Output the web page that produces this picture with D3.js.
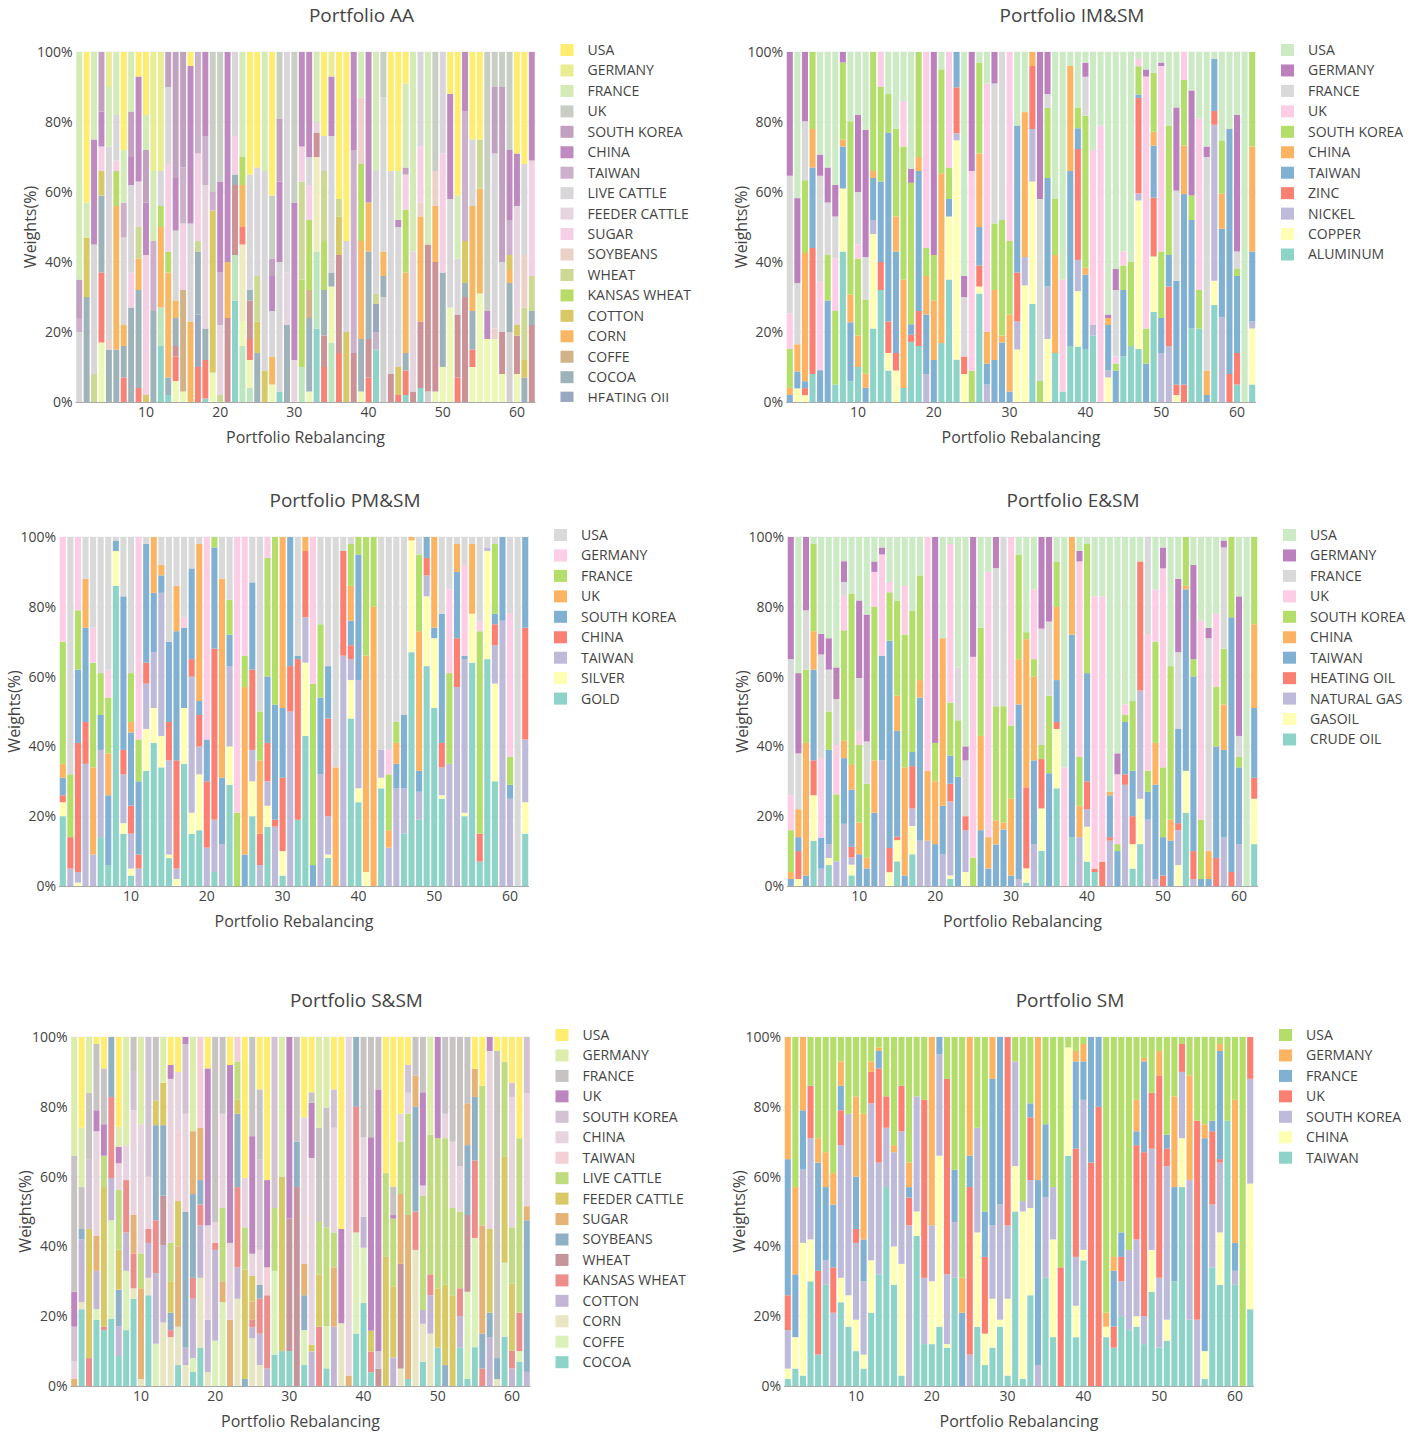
<!DOCTYPE html>
<html>
<head>
<meta charset="utf-8">
<script src="https://cdn.jsdelivr.net/npm/d3@7"></script>
<style>
  body { margin: 0; background: #fff; }
  text { font-family: "Open Sans", verdana, arial, sans-serif; fill: #444; }
</style>
</head>
<body>
<div id="run"></div>
<script>
// asset lists, bottom of the stack first (legend shows them reversed)
var aaAssets = ["ALUMINUM","COPPER","NICKEL","ZINC","GOLD","SILVER","CRUDE OIL","GASOIL","NATURAL GAS","HEATING OIL",
  "COCOA","COFFE","CORN","COTTON","KANSAS WHEAT","WHEAT","SOYBEANS","SUGAR","FEEDER CATTLE","LIVE CATTLE",
  "TAIWAN","CHINA","SOUTH KOREA","UK","FRANCE","GERMANY","USA"];
var imAssets = ["ALUMINUM","COPPER","NICKEL","ZINC","TAIWAN","CHINA","SOUTH KOREA","UK","FRANCE","GERMANY","USA"];
var pmAssets = ["GOLD","SILVER","TAIWAN","CHINA","SOUTH KOREA","UK","FRANCE","GERMANY","USA"];
var enAssets = ["CRUDE OIL","GASOIL","NATURAL GAS","HEATING OIL","TAIWAN","CHINA","SOUTH KOREA","UK","FRANCE","GERMANY","USA"];
var ssAssets = ["COCOA","COFFE","CORN","COTTON","KANSAS WHEAT","WHEAT","SOYBEANS","SUGAR","FEEDER CATTLE","LIVE CATTLE",
  "TAIWAN","CHINA","SOUTH KOREA","UK","FRANCE","GERMANY","USA"];
var smAssets = ["TAIWAN","CHINA","SOUTH KOREA","UK","FRANCE","GERMANY","USA"];

// one letter per asset, same order as above (AA and S&SM use the asset index)
var imCodes = "LPNZTCKUFGA";
var pmCodes = "OSTCKUFGA";
var enCodes = "RSNHTCKUFGA";
var smCodes = "TCKUFGA";

var yTicks = [0, 0.2, 0.4, 0.6, 0.8, 1];
var xTicks = [10, 20, 30, 40, 50, 60];

// weights (%) per rebalancing
var aaBars = [
"19:20 20:4 22:11 24:65","10:30 13:17 24:10 26:43","15:8 19:37 21:30 24:25","2:17 7:20 10:22 13:7 17:7 21:10 22:17",
"16:3 10:15 19:55 24:17 25:10","17:3 10:15 12:41 14:10 19:13 24:18","7:7 10:9 19:25 20:10 12:6 24:15 26:28",
"17:10 10:27 22:13 19:25 24:17 21:8","7:4 10:28 12:9 15:9 21:30 18:13 26:7","13:2 17:40 21:15 22:15 24:10 26:18",
"10:26 20:20 24:20 25:34","0:16 1:11 19:10 12:23 14:6 25:34","0:2 10:5 19:22 12:30 14:6 17:25 22:10",
"2:6 7:7 10:8 19:20 12:5 8:3 21:15 22:36","2:3 11:29 17:19 20:16 22:33","12:23 19:28 21:45 26:4",
"10:18 7:10 9:15 17:25 15:3 20:29","0:1 7:11 10:9 18:41 20:14 21:24","2:8 13:44 20:5 23:38",
"15:2 18:20 21:26 20:15 23:37","8:24 12:16 21:60","0:29 1:13 8:20 10:3 17:11 19:24",
"1:16 7:5 3:22 2:7 12:12 14:8 24:30","1:4 2:8 8:11 7:6 10:3 19:33 26:35","15:13 10:14 13:9 19:31 26:33",
"19:57 13:9 24:34","2:5 12:8 19:13 22:5 21:10 23:18 26:41","0:3 19:37 22:18 21:23 23:19",
"18:15 10:22 19:63","18:12 21:45 23:43","1:10 14:25 15:28 17:10 21:27",
"14:20 2:3 19:8 10:21 11:8 17:10 21:30","0:21 1:22 3:27 8:7 18:3 24:20","8:9 7:10 10:13 14:14 15:20 19:10 26:24",
"1:17 2:16 10:4 19:39 21:17 25:7","8:28 7:14 13:11 15:5 26:42","13:20 19:26 26:54",
"8:14 20:58 21:28","2:3 10:15 12:28 14:22 24:13 16:19","8:11 7:7 10:25 12:14 21:43",
"0:15 5:5 9:8 15:3 19:35 24:34","10:6 12:7 19:44 4:30 23:13","8:8 19:58 26:34",
"7:2 13:8 19:40 21:2 24:14 26:34","0:2 7:7 10:5 17:10 12:23 14:18 24:24 22:2 26:9","8:3 18:40 24:57",
"0:4 8:19 17:16 12:30 16:4 19:27","4:3 8:42 24:55","2:3 8:37 12:16 16:10 23:34",
"2:10 17:34 10:27 19:29","2:27 19:31 21:30 26:12","8:18 7:7 19:16 24:18 26:41",
"8:30 10:4 13:12 21:17 20:37","2:10 7:5 10:11 12:30 19:19 26:25","2:31 12:30 15:14 26:25",
"2:18 21:8 23:74","2:18 16:3 19:50 22:19 23:10","2:8 8:12 19:20 22:50 23:10",
"10:14 12:4 13:4 4:20 20:10 21:20 23:28","2:8 8:11 13:3 18:34 21:15 26:29","10:7 15:15 13:5 16:15 19:26 26:32",
"8:22 10:4 15:10 17:33 21:31"];

var imBars = [
"T2 C2 K11 U10 F39 G35","P4 T5 C8 F18 G25 A43","P2 Z2 T2 C37 K21 F17 G20","L8 Z36 T23 C11 K22",
"T9 U25 F30 G6 A29","T29 K13 F15 G10 A33","L5 K21 U15 F12 G9 A38","L43 P18 T12 C2 K22 G3",
"L6 T17 C8 K50 A20","L10 C9 K22 U4 F15 G22 A18","T4 C4 K21 F12 G36 A22","L21 P27 N4 T12 C2 K34",
"L32 Z8 T23 K27 U10","L9 P5 Z9 T54 K11 A12","P9 Z5 T29 C10 K25 A22","L4 C31 K38 U13 A14",
"L17 Z2 T3 K40 G4 A33","L16 Z10 T40 C4 K30","N8 T17 C11 K8 U56","T12 C17 K13 G58",
"L17 C49 K30 A5","L35 P18 T5 K9 U33","L12 P62 N2 Z13 T10","P8 Z5 F17 G6 A64",
"K9 U57 G34","L31 P2 Z6 T11 C21 K26 A3","N5 T6 C9 U71 A9","T12 C20 K19 F40 G9",
"T17 C2 K33 F48","T3 C22 K21 U54","P15 N8 Z14 T42 A21","P33 N8 C41 A17",
"L28 P35 N15 Z18 C4","K6 F52 G42","P18 N15 T31 K20 F4 G12","L14 C28 K16 A42",
"L3 U32 A65","L16 T50 C30 A4","L16 P16 N9 Z32 T6 K6 A16","L15 T21 C2 K43 F11 G4 A3",
"L19 N3 U50 A28","U79 A21","P7 N2 T13 C2 G1 A75","T9 K2 U2 F19 G6 A62",
"L13 T19 K7 U4 A57","L16 K24 A60","L15 P42 N2 Z27 T1 K8 U2 A2","T11 K10 U72 G2 A5",
"L26 P16 Z17 T15 C4 K17 A6","N14 T10 K19 U53 G1 A3","N16 Z17 T9 K37 A21","P2 Z3 T30 F26 G24 A16",
"Z5 T55 C14 K19 U8","L21 T31 K7 G30 A11","L21 K11 U49 A19","T2 C7 F61 G3 A27",
"L28 P7 N45 Z4 T15 A2","N24 T25 C10 K15 A25","Z8 T70 A22","L5 Z9 T22 K2 F5 G39 A18",
"A100","L5 P16 N2 T20 C30 K27"];

var pmBars = [
"O20 S4 C2 K5 U4 F35 G30","T5 C9 F18 A68","S1 T3 C37 K21 F17 G21","T35 C12 K27 U14 A12",
"T9 U25 F30 G10 A26","O14 T25 K10 F12 A39","O6 K20 U12 F16 G8 A38","O86 S10 K3 A1",
"O15 S3 T14 C7 K44 A17","O3 S2 T10 C8 K21 U3 F14 A39","T5 C4 K21 F12 G58","O33 S12 T13 C6 K34 A2",
"O41 S10 T16 K17 U16","O34 S9 T41 K5 U3 A8","O8 S1 T27 C11 K23 A30","S2 T3 C31 K37 U13 A14",
"O35 S16 K23 G3 A23","O15 S6 T39 C5 K26 A9","O16 S16 T8 C9 K4 U45 A2","T11 C19 K12 G58",
"O4 T15 C49 K29 F3","T12 K19 U57 A12","O29 S11 T23 K9 F10 A18","F21 G79",
"K9 U48 F9 G34","O20 S10 T9 C23 K25 A13","T6 C9 U21 F14 A50","O17 S6 T7 C11 K19 F34 G6",
"T17 C2 K33 F48","O3 S7 C21 K20 U49","T50 C13 K37","O19 C46 K1 A34",
"O43 S21 T13 C19 U4","K6 F52 G42","T32 K22 F21 A25","O8 S1 T11 C28 K15 A37",
"U34 A66","T66 C30 A4","O48 S11 T6 C4 K7 U10 F12 A2","O24 S4 T31 K36 F5",
"S4 U62 F34","U80 F20","O28 S3 T8 A61","T11 U5 F16 G7 A61",
"T28 K7 U6 F6 A53","O15 T13 K21 A51","O67 S32 U1","O19 T8 K6 U40 F22 A5",
"O63 S20 T6 C5 K6","O51 S20 K3 U26","O25 S1 T8 C7 K37 A22","T35 F26 G24 A15",
"T57 C14 K19 U8 A2","O20 S1 T44 K1 G26 A8","O64 S14 U20 A2","O7 C8 F58 G3 A24",
"O65 S31 T1 A3","O30 S28 T11 C6 K3 F20 A2","T76 K24","T25 K4 F8 G41 A22",
"A100","O15 S9 T18 C32 K26"];

var enBars = [
"T2 C2 K12 U10 F39 G35","S2 H8 T4 C8 F16 G23 A39","T3 C38 K21 F17 G21","R13 S13 H10 T26 C11 K25 A2",
"N5 T9 U23 F30 G6 A28","R6 S2 N4 T27 K11 F12 G9 A29","N7 K19 U14 F13 G9 A37","N18 T19 C5 K32 U10 F4 G6 A7",
"R3 S3 N2 H3 T16 C7 K48 A16","T9 C9 K22 U4 F15 G22 A18","T5 C3 K21 F12 G36 A22","T21 C15 K44 U10 G3 A7",
"N36 T30 U29 G2 A3","S4 H7 T60 K14 U3 A13","R7 S6 H1 T30 C10 K27 A18","T3 C31 K38 U14 A14",
"R9 S8 N5 H12 T4 K40 A21","N13 T41 C5 K30 A11","N13 C20 U67","T12 C18 K11 G59",
"N9 T14 C48 A29","R2 S1 N21 H5 T8 K15 U45 A2","T31 K16 F15 A37","S4 N12 H4 F16 G4 A60",
"K8 U57 G34","T16 C27 K31 A26","T5 C9 U76 A10","T12 C7 K33 F40 G9",
"T16 C2 K33 F48","T3 C22 K21 U54","N2 T50 C13 K30 A5","R1 S4 H23 C42 K2 A27",
"N12 T24 C24 K5 U20 A15","R10 S12 H14 K4 F33 G26","T32 K22 F21 G24","R28 S17 H2 T12 C21 K13 A7",
"U34 A66","R14 T58 C28","N14 C9 K14 U56 G3 A4","R7 S10 N5 H8 T31 K37 A2",
"R4 H1 U78 A17","H7 U76 A17","N13 H1 T12 C1 A73","T10 K2 U20 G6 A62",
"N29 H3 T15 K2 U3 A48","R5 S7 H8 T13 K20 A47","R12 S13 N31 H37 A7","N19 T8 K6 U39 F28",
"N2 T27 C12 K29 U15 A15","H3 T11 K20 U57 G6 A3","T13 C6 K44 A37","S6 N10 H2 T27 F22 G21 A12",
"R21 S12 T52 C1 K14","N2 H8 T50 K5 G27 A8","T2 K17 U57 A24","T2 C8 F61 G3 A26",
"H8 T32 K17 U21 A22","N14 T25 C13 K16 F29 G2 A1","H4 T73 K23","N12 T22 K3 F6 G40 A17",
"A100","R12 S13 H6 T20 C24 K25"];

var ssBars = [
"7:2 11:5 12:10 13:10 14:39 15:34","0:22 2:2 3:18 6:3 14:12 15:17 16:26","4:8 8:37 12:20 14:19 15:16",
"0:19 1:3 3:11 7:10 11:30 13:6 14:19 16:2","0:16 4:1 8:40 9:9 13:9 14:16 16:9","0:19 1:28 3:12 4:23 6:17",
"0:9 3:9 6:11 8:12 9:18 11:8 13:5 15:6 16:27","0:16 1:17 3:11 4:15 11:10 15:31","0:25 2:3 4:10 7:11 11:30 12:11 14:10",
"2:2 7:26 9:10 11:37 15:25","0:26 2:5 3:10 4:4 11:15 12:40","1:12 3:20 4:15 6:27 8:7 14:18",
"2:18 3:22 5:14 6:20 8:12 15:13","2:14 4:2 6:5 8:9 9:11 11:47 13:4 16:8","0:6 2:11 7:23 8:13 10:20 11:17 16:10",
"2:6 3:5 6:39 11:28 12:20 13:2","0:4 1:4 3:17 4:6 6:24 7:18 15:27","0:11 2:20 3:15 4:6 6:7 7:15 10:26",
"2:4 3:15 11:27 13:45 16:9","1:13 3:26 4:2 11:6 14:53","1:24 7:6 9:21 11:27 14:22",
"7:19 11:22 13:51 16:8","2:25 3:9 4:23 6:21 8:4 9:11 10:7","6:2 8:31 9:12 11:14 16:40",
"2:13 3:3 4:2 7:5 8:7 11:6 13:32 14:27","2:6 3:9 4:10 6:4 11:10 12:26 14:20 16:15","3:5 4:21 10:8 13:25 16:41",
"0:9 1:24 9:18 12:49","0:10 8:50 15:40","0:10 5:38 13:52",
"5:57 6:13 14:30","0:6 1:10 6:10 7:9 11:42 16:23","3:10 8:2 11:54 13:16 14:3 16:16",
"4:17 8:15 9:15 14:27 15:26","0:5 1:12 9:28 14:34 15:20","3:17 7:17 9:10 11:30 12:11 16:15",
"2:18 13:27 16:55","7:3 11:97","0:15 1:29 4:36 6:20",
"0:24 1:16 3:9 11:23 14:29","0:4 4:6 8:6 13:56 14:29","5:5 12:5 13:75 14:15",
"8:37 9:24 16:39","3:8 8:20 9:19 13:1 14:8 16:42","2:5 5:30 7:20 9:15 11:8 16:22",
"0:2 7:47 9:29 11:6 12:8 16:8","2:39 4:11 6:30 7:9 14:11","0:7 2:11 3:4 9:33 11:3 13:27 14:16",
"2:15 3:11 4:6 9:40 15:28","0:11 8:17 9:43 13:29","6:6 8:23 9:42 11:7 14:22",
"8:26 9:25 11:19 14:30","0:11 3:9 4:8 9:22 11:13 14:37","0:2 1:25 5:22 6:20 7:12 14:19",
"0:11 1:31 4:22 6:18 7:8 16:9","4:5 6:10 7:31 9:40 16:14","3:14 6:7 8:24 11:51 13:4",
"2:2 6:6 14:88 16:4","0:14 1:21 8:30 9:27 16:7","3:5 4:5 8:19 9:16 11:37 12:4 16:13",
"0:7 1:3 4:11 9:50 16:29","3:4 6:43 7:4 11:32 12:16"];

var smBars = [
"T2 C3 K11 U10 F39 G35","T5 C9 F18 G25 A43","T3 C38 K21 F17 G21","T30 C12 K29 U15 A14",
"T9 U24 F31 G7 A29","T29 K7 F21 G10 A33","K21 U13 F18 G9 A39","T24 C7 K38 U10 F7 G7 A7",
"T17 C9 K52 A22","T10 C9 K22 U4 F15 G23 A17","T5 C4 K21 F12 G36 A22","T21 C15 K45 U9 G3 A7",
"T32 K32 U27 F5 G1 A3","T57 K17 U9 A17","T29 C11 K27 G2 A31","T3 C32 K38 U13 A14",
"K46 U8 F3 G7 A36","T43 C7 K33 A17","T12 K19 U51 A18","T12 C18 K16 G54",
"T17 C49 K29 F5","T11 C1 K20 U56 A12","T31 K16 F15 A38","F21 G10 A69",
"K9 U48 F9 G34","T17 C27 K30 A26","T6 C9 U22 F13 A50","T11 C14 K21 F42 G12",
"T17 C2 K33 F48","T3 C22 K21 U54","T50 C13 K30 A7","T2 C48 K3 A47",
"T26 C25 K8 U18 F4 A19","K6 F53 G41","T31 K23 F21 A25","T14 C28 K15 A43",
"U34 A66","T66 C31 A3","T14 C9 K14 U31 F25 G3 A4","T36 C3 K43 F11 G5 A2",
"U64 F36","U80 F20","T14 C3 G4 A79","T11 U6 F16 G4 A63",
"T20 K10 U7 F7 A56","T16 K23 A61","T17 C3 K22 U27 F4 G9 A18","T12 K8 U47 F26 G1 A6",
"T27 C12 K29 U16 A16","T11 K20 U58 G7 A4","T13 C6 K44 U5 F4 A28","T30 F27 G26 A17",
"T57 C14 K19 U8 A2","T19 K40 G30 A11","K19 U57 A24","T2 C8 F61 G4 A25",
"T34 K18 U21 F3 A24","T29 C15 K20 U1 F31 G2 A2","T76 A24","T29 K4 F8 G41 A18",
"A100","T22 C36 K30 U12"];

var panels = [
  {title: "Portfolio AA",    assets: aaAssets, codes: null,    bars: aaBars, x0: 75.5, x1: 535.5, y0: 52,   y1: 402},
  {title: "Portfolio IM&SM", assets: imAssets, codes: imCodes, bars: imBars, x0: 786,  x1: 1256,  y0: 52,   y1: 402},
  {title: "Portfolio PM&SM", assets: pmAssets, codes: pmCodes, bars: pmBars, x0: 59,   x1: 529,   y0: 537,  y1: 886},
  {title: "Portfolio E&SM",  assets: enAssets, codes: enCodes, bars: enBars, x0: 787,  x1: 1258,  y0: 537,  y1: 886},
  {title: "Portfolio S&SM",  assets: ssAssets, codes: null,    bars: ssBars, x0: 70.5, x1: 530.5, y0: 1037, y1: 1386},
  {title: "Portfolio SM",    assets: smAssets, codes: smCodes, bars: smBars, x0: 784,  x1: 1254,  y0: 1037, y1: 1386}
];

var svg = d3.select("#run").append("svg")
    .attr("width", 1424)
    .attr("height", 1433);

function palette(n) {
  if (n <= 12) return d3.schemeSet3.slice(0, n);
  var interp = d3.piecewise(d3.interpolateRgb, d3.schemeSet3);
  return d3.range(n).map(function(i) { return interp(i / (n - 1)); });
}

// "T30 C12" or "19:20" -> one row of weights in stack order
function parseBar(str, p, i) {
  var row = {bar: i + 1};
  p.assets.forEach(function(a, k) { row[k] = 0; });
  str.split(" ").forEach(function(tok) {
    var k, v;
    if (tok.indexOf(":") >= 0) {
      k = +tok.split(":")[0];
      v = +tok.split(":")[1];
    } else {
      k = p.codes.indexOf(tok[0]);
      v = +tok.slice(1);
    }
    row[k] += v;
  });
  return row;
}

var legStep = 20.45;

panels.forEach(function(p, pi) {
  var n = p.assets.length;
  var colors = palette(n);
  var rows = p.bars.map(function(s, i) { return parseBar(s, p, i); });

  var x = d3.scaleBand()
      .domain(rows.map(function(d) { return d.bar; }))
      .range([p.x0, p.x1])
      .paddingInner(0.2)
      .paddingOuter(0.1);
  var xl = d3.scaleLinear().domain([0.5, rows.length + 0.5]).range([p.x0, p.x1]);
  var y = d3.scaleLinear().domain([0, 1]).range([p.y1, p.y0]);

  var series = d3.stack()
      .keys(d3.range(n))
      .offset(d3.stackOffsetExpand)(rows);

  var g = svg.append("g");

  // grid
  g.selectAll(".grid").data(yTicks.slice(1)).enter().append("line")
      .attr("x1", p.x0).attr("x2", p.x1)
      .attr("y1", y).attr("y2", y)
      .attr("stroke", "#eee");

  g.selectAll(".layer").data(series).enter().append("g")
      .attr("fill", function(d, k) { return colors[k]; })
    .selectAll("rect").data(function(d) { return d; }).enter().append("rect")
      .attr("x", function(d) { return x(d.data.bar); })
      .attr("width", x.bandwidth())
      .attr("y", function(d) { return y(d[1]); })
      .attr("height", function(d) { return Math.max(0, y(d[0]) - y(d[1])); });

  g.append("line")
      .attr("x1", p.x0).attr("x2", p.x1)
      .attr("y1", p.y1 + 0.5).attr("y2", p.y1 + 0.5)
      .attr("stroke", "#aaa");

  // y ticks
  g.selectAll(".ytick").data(yTicks).enter().append("text")
      .attr("x", p.x0 - 3)
      .attr("y", y)
      .attr("dy", "0.35em")
      .attr("text-anchor", "end")
      .style("font-size", "14px")
      .text(d3.format(".0%"));

  // x ticks
  g.selectAll(".xtick").data(xTicks).enter().append("text")
      .attr("x", xl)
      .attr("y", p.y1 + 10)
      .attr("dy", "0.35em")
      .attr("text-anchor", "middle")
      .style("font-size", "14px")
      .text(function(d) { return d; });

  g.append("text")
      .attr("x", (p.x0 + p.x1) / 2)
      .attr("y", p.y1 + 35)
      .attr("dy", "0.35em")
      .attr("text-anchor", "middle")
      .style("font-size", "16px")
      .text("Portfolio Rebalancing");

  g.append("text")
      .attr("transform", "translate(" + (p.x0 - 45) + "," + ((p.y0 + p.y1) / 2) + ") rotate(-90)")
      .attr("dy", "0.35em")
      .attr("text-anchor", "middle")
      .style("font-size", "16px")
      .text("Weights(%)");

  g.append("text")
      .attr("x", p.x0 + 286)
      .attr("y", p.y0 - 37)
      .attr("dy", "0.35em")
      .attr("text-anchor", "middle")
      .style("font-size", "19px")
      .text(p.title);

  // legend, clipped to the plot height like a scrolling legend
  svg.append("clipPath").attr("id", "leg" + pi)
    .append("rect")
      .attr("x", p.x1)
      .attr("y", p.y0 - 14)
      .attr("width", 200)
      .attr("height", p.y1 - p.y0 + 14);

  var legItems = d3.range(n).reverse().filter(function(k, j) {
    return p.y0 - 2 + j * legStep < p.y1 + 4;
  });
  var leg = g.append("g").attr("clip-path", "url(#leg" + pi + ")")
    .selectAll("g").data(legItems).enter().append("g")
      .attr("transform", function(k, j) { return "translate(" + (p.x1 + 25) + "," + (p.y0 - 2 + j * legStep) + ")"; });

  leg.append("rect")
      .attr("x", 0).attr("y", -6)
      .attr("width", 13).attr("height", 12)
      .attr("fill", function(k) { return colors[k]; });

  leg.append("text")
      .attr("x", 27)
      .attr("dy", "0.35em")
      .style("font-size", "14px")
      .text(function(k) { return p.assets[k]; });
});
</script>
</body>
</html>
